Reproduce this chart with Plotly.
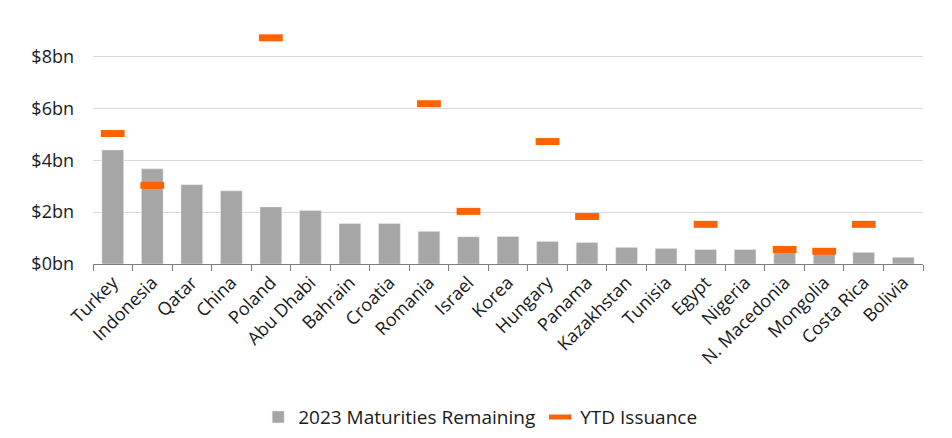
import plotly.graph_objects as go

countries = ["Turkey", "Indonesia", "Qatar", "China", "Poland", "Abu Dhabi", "Bahrain",
             "Croatia", "Romania", "Israel", "Korea", "Hungary", "Panama", "Kazakhstan",
             "Tunisia", "Egypt", "Nigeria", "N. Macedonia", "Mongolia", "Costa Rica", "Bolivia"]
maturities = [4.40, 3.67, 3.06, 2.82, 2.20, 2.06, 1.56, 1.56, 1.26, 1.05, 1.06, 0.87,
              0.83, 0.64, 0.60, 0.56, 0.56, 0.56, 0.45, 0.45, 0.26]
ytd_issuance = [5.03, 3.03, None, None, 8.72, None, None, None, 6.18, 2.03, None, 4.72,
                1.83, None, None, 1.53, None, 0.56, 0.49, 1.53, None]
y_ticks = [0, 2, 4, 6, 8]
y_labels = ["$0bn", "$2bn", "$4bn", "$6bn", "$8bn"]

font = "Open Sans, Roboto, sans-serif"
orange = "#FF6200"

fig = go.Figure()
fig.add_trace(go.Bar(x=countries, y=maturities, name="2023 Maturities Remaining",
                     marker=dict(color="#A6A6A6")))
fig.add_trace(go.Scatter(x=countries, y=ytd_issuance, name="YTD Issuance", mode="markers",
                         marker=dict(symbol="line-ew-open", size=17, color=orange,
                                     line=dict(color=orange, width=7))))

# page body adds an 8px offset, margins compensate for it
fig.update_layout(
    width=952, height=438,
    margin=dict(l=85, r=37, t=7, b=182),
    plot_bgcolor="white", paper_bgcolor="white",
    font=dict(family=font, size=18, color="#1a1a1a"),
    bargap=0.45,
    showlegend=True,
    legend=dict(orientation="h", x=0.496, xanchor="center", xref="container",
                y=0.066, yanchor="middle", yref="container",
                font=dict(size=19)),
)
fig.update_xaxes(range=[-0.5, len(countries) - 0.5],
                 tickangle=-45, showline=True, linecolor="#808080", linewidth=1,
                 ticks="outside", tickson="boundaries", ticklen=6, tickcolor="#808080",
                 showgrid=False, tickfont=dict(size=18), automargin=False)
fig.update_yaxes(range=[0, 9.6], tickvals=y_ticks, ticktext=y_labels,
                 showgrid=True, gridcolor="#D9D9D9", gridwidth=1, zeroline=False,
                 tickfont=dict(size=18), ticks="", ticklabelstandoff=18, automargin=False)

fig.write_html("out.html")
